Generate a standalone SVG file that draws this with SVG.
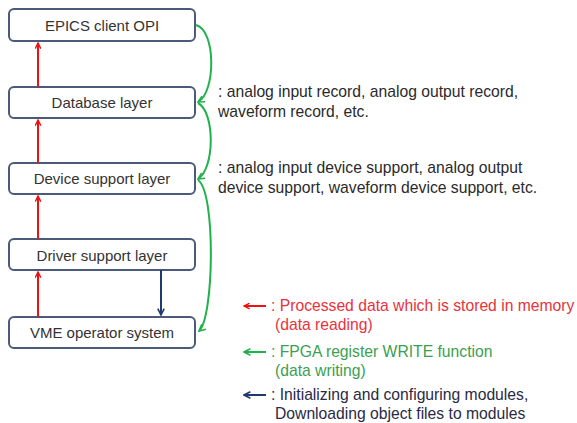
<svg xmlns="http://www.w3.org/2000/svg" width="577" height="423" viewBox="0 0 577 423">
<style>
.box{fill:#fff;stroke:#4b5a78;stroke-width:2}
.lbl{font-family:"Liberation Sans",Arial,sans-serif;font-size:15px;fill:#333;text-anchor:middle}
.txt{font-family:"Liberation Sans",Arial,sans-serif;font-size:15.7px;fill:#2a2a2a}
.red{stroke:#f01010;stroke-width:2;fill:none}
.grn{stroke:#22b14c;stroke-width:2;fill:none}
.blu{stroke:#1f3b6e;stroke-width:2;fill:none}
</style>
<defs>
<marker id="ar" viewBox="0 0 10 10" refX="9" refY="5" markerWidth="7" markerHeight="7" markerUnits="userSpaceOnUse" orient="auto"><path d="M1,1 L9,5 L1,9" fill="none" stroke="#f01010" stroke-width="2"/></marker>
<marker id="ag" viewBox="0 0 10 10" refX="9" refY="5" markerWidth="8" markerHeight="8" markerUnits="userSpaceOnUse" orient="auto"><path d="M1,1 L9,5 L1,9" fill="none" stroke="#22b14c" stroke-width="2"/></marker>
<marker id="ab" viewBox="0 0 10 10" refX="9" refY="5" markerWidth="8" markerHeight="8" markerUnits="userSpaceOnUse" orient="auto"><path d="M1,1 L9,5 L1,9" fill="none" stroke="#1f3b6e" stroke-width="2"/></marker>
</defs>
<g id="n1"><rect class="box" x="9" y="9" width="186" height="32" rx="5"/><text class="lbl" x="102" y="31">EPICS client OPI</text></g>
<g id="n2"><rect class="box" x="9" y="87" width="186" height="31" rx="5"/><text class="lbl" x="102" y="108">Database layer</text></g>
<g id="n3"><rect class="box" x="9" y="163" width="186" height="31" rx="5"/><text class="lbl" x="102" y="184">Device support layer</text></g>
<g id="n4"><rect class="box" x="9" y="239" width="186" height="31" rx="5"/><text class="lbl" x="102" y="261">Driver support layer</text></g>
<g id="n5"><rect class="box" x="9" y="317" width="186" height="31" rx="5"/><text class="lbl" x="102" y="338">VME operator system</text></g>
<g id="connectors">
<line class="red" x1="38" y1="87" x2="38" y2="43" marker-end="url(#ar)"/>
<line class="red" x1="38" y1="163" x2="38" y2="120" marker-end="url(#ar)"/>
<line class="red" x1="38" y1="239" x2="38" y2="196" marker-end="url(#ar)"/>
<line class="red" x1="38" y1="317" x2="38" y2="272" marker-end="url(#ar)"/>
<line class="blu" x1="161" y1="270" x2="161" y2="315" marker-end="url(#ab)"/>
<path class="grn" d="M196,25 C216,30 216,92 198,102" marker-end="url(#ag)"/>
<path class="grn" d="M198,103 C215,112 215,168 198,179" marker-end="url(#ag)"/>
<path class="grn" d="M198,180 C216,192 214,318 199,331" marker-end="url(#ag)"/>
</g>
<g id="notes">
<text class="txt" x="218" y="97">: analog input record, analog output record,</text>
<text class="txt" x="218" y="117">waveform record, etc.</text>
<text class="txt" x="218" y="173">: analog input device support, analog output</text>
<text class="txt" x="218" y="193">device support, waveform device support, etc.</text>
</g>
<g id="legend">
<line x1="266" y1="306" x2="244" y2="306" stroke="#f01010" stroke-width="2" marker-end="url(#ar)"/>
<text class="txt" x="271" y="311" style="fill:#e8323c">: Processed data which is stored in memory</text>
<text class="txt" x="275" y="330" style="fill:#e8323c">(data reading)</text>
<line x1="266" y1="352" x2="244" y2="352" stroke="#22b14c" stroke-width="2" marker-end="url(#ag)"/>
<text class="txt" x="271" y="357" style="fill:#3a9f50">: FPGA register WRITE function</text>
<text class="txt" x="275" y="376" style="fill:#3a9f50">(data writing)</text>
<line x1="266" y1="395" x2="244" y2="395" stroke="#1f3b6e" stroke-width="2" marker-end="url(#ab)"/>
<text class="txt" x="271" y="400" style="fill:#2a2a44">: Initializing and configuring modules,</text>
<text class="txt" x="275" y="419" style="fill:#2a2a44">Downloading object files to modules</text>
</g>
</svg>
